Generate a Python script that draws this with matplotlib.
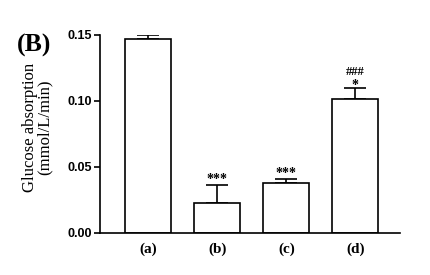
import numpy as np
import matplotlib; matplotlib.use("Agg"); import matplotlib.pyplot as plt

groups = ["(a)", "(b)", "(c)", "(d)"]
means = [0.1465, 0.0225, 0.0374, 0.1011]
sems = [0.0030, 0.0134, 0.0031, 0.0083]
stars = ["", "***", "***", "*"]
hashes = ["", "", "", "###"]

SERIF = ["Liberation Serif", "DejaVu Serif"]
SANS = ["Liberation Sans", "DejaVu Sans"]

fig = plt.figure(figsize=(4.31, 2.75), dpi=100)
ax = fig.add_axes([0.232, 0.154, 0.696, 0.720])
x = np.arange(len(groups))
ax.bar(x, means, width=0.667, color="white", edgecolor="black", linewidth=1.2, zorder=2)
ax.errorbar(x, means, yerr=[np.zeros(len(sems)), sems], fmt="none", ecolor="black",
            elinewidth=1.2, capsize=8, capthick=1.2, zorder=1)

for xi, m, s, st, h in zip(x, means, sems, stars, hashes):
    top = m + s
    if st:
        off = 0.0016 if not h else -0.0006
        ax.text(xi, top + off, st, ha="center", va="baseline", fontsize=10,
                fontweight="bold", family=SERIF)
    if h:
        ax.text(xi, top + 0.0100, h, ha="center", va="baseline", fontsize=9,
                fontweight="bold", family=SERIF)

ax.set_xlim(-0.70, 3.648)
ax.set_ylim(0, 0.15)
ax.set_yticks([0.00, 0.05, 0.10, 0.15])
ax.set_yticklabels(["0.00", "0.05", "0.10", "0.15"], family=SANS, fontweight="bold", fontsize=9)
ax.set_xticks(x)
ax.set_xticklabels(groups, family=SERIF, fontweight="bold", fontsize=11)
ax.tick_params(axis="x", length=0, pad=7)
ax.tick_params(axis="y", length=4, width=1.2, pad=2)
for sp in ["top", "right"]:
    ax.spines[sp].set_visible(False)
for sp in ["left", "bottom"]:
    ax.spines[sp].set_linewidth(1.2)

ax.set_ylabel("Glucose absorption\n(mmol/L/min)", family=SERIF, fontsize=12,
              linespacing=0.9)
ax.yaxis.set_label_coords(-0.157, 0.53)
fig.text(0.040, 0.875, "(B)", family=SERIF, fontweight="bold", fontsize=18.5, va="top")

fig.savefig("out.png", dpi=100)
